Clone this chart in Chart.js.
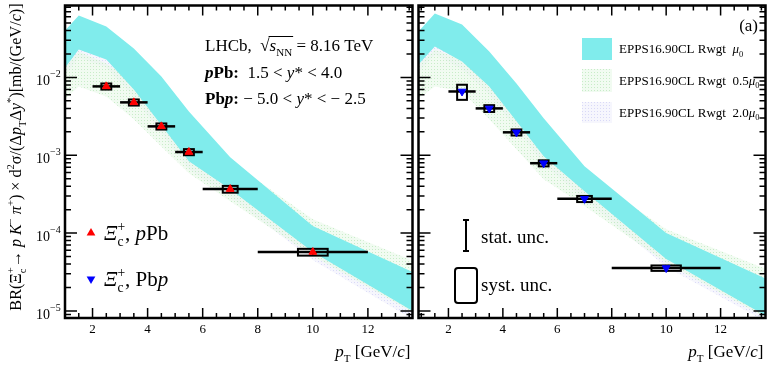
<!DOCTYPE html>
<html>
<head>
<meta charset="utf-8">
<script src="https://cdn.jsdelivr.net/npm/chart.js@4.4.0/dist/chart.umd.min.js"></script>
<style>
  body { margin: 0; background: #fff; }
  #wrap { position: relative; width: 771px; height: 372px; }
  canvas { position: absolute; top: 0; }
</style>
</head>
<body>
<div id="wrap">
  <canvas id="left" width="418" height="372" style="left:0;width:418px;height:372px"></canvas>
  <canvas id="right" width="358" height="372" style="left:413px;width:358px;height:372px"></canvas>
</div>
<script>
// pT bins of the measurement
const ptCenters = [2.5, 3.5, 4.5, 5.5, 7, 10];
const ptLow = [2, 3, 4, 5, 6, 8];
const ptHigh = [3, 4, 5, 6, 8, 12];

// Xi_c+ cross-sections (mb/(GeV/c))
const pPbValues = [7.67e-3, 4.78e-3, 2.35e-3, 1.10e-3, 3.67e-4, 5.7e-5];
const pPbStat = [0.03, 0.03, 0.03, 0.04, 0.05, 0.08];   // relative
const pPbSyst = [0.09, 0.09, 0.09, 0.09, 0.10, 0.10];   // relative
const PbpValues = [6.6e-3, 4.0e-3, 1.97e-3, 7.9e-4, 2.75e-4, 3.55e-5];
const PbpStat = [0.05, 0.04, 0.04, 0.04, 0.05, 0.08];
const PbpSyst = [0.22, 0.10, 0.09, 0.09, 0.09, 0.08];

// EPPS16 reweighted predictions, band edges
const bandX = [0.9, 1.5, 2.5, 3.5, 4.5, 5.5, 7, 10, 14];
const leftMu0Hi = [0.0366, 0.0624, 0.0451, 0.0235, 0.0103, 0.00366, 0.000942, 0.000123, 2.73e-5];
const leftMu0Lo = [0.0119, 0.0229, 0.0170, 0.00702, 0.00243, 0.000838, 0.000366, 5.70e-5, 8.3e-6];
const leftHalfHi = [0.0127, 0.0215, 0.0151, 0.00889, 0.00389, 0.00151, 0.000838, 0.000151, 3.89e-5];
const leftHalfLo = [0.00492, 0.00767, 0.00570, 0.00290, 0.00130, 0.000588, 0.000257, 5.07e-5, 8.1e-6];
const leftTwoHi = [0.030, 0.050, 0.038, 0.019, 0.0080, 0.0028, 0.00075, 0.0001, 2.4e-5];
const leftTwoLo = [0.00942, 0.0180, 0.0134, 0.00555, 0.00191, 0.000662, 0.000290, 4.51e-5, 6.5e-6];

const rightMu0Hi = [0.0389, 0.0662, 0.0478, 0.0215, 0.00838, 0.00298, 0.000723, 1.0e-4, 2.29e-5];
const rightMu0Lo = [0.0147, 0.0249, 0.0160, 0.00767, 0.00273, 0.000970, 0.000345, 4.64e-5, 7.4e-6];
const rightHalfHi = [0.0147, 0.0229, 0.0170, 0.00838, 0.00345, 0.00130, 0.000588, 0.000112, 3.1e-5];
const rightHalfLo = [0.00538, 0.00767, 0.00662, 0.00290, 0.00119, 0.000492, 0.000222, 4.12e-5, 7.0e-6];
const rightTwoHi = [0.032, 0.054, 0.040, 0.018, 0.0072, 0.0025, 0.0006, 8.5e-5, 2.0e-5];
const rightTwoLo = [0.0116, 0.0197, 0.0127, 0.00605, 0.00215, 0.000767, 0.000273, 3.66e-5, 6.3e-6];

const xTickLabels = [2, 4, 6, 8, 10, 12];
const yDecades = [-5, -4, -3, -2];

const FONT = '"Liberation Serif", "DejaVu Serif", serif';
Chart.defaults.font.family = FONT;

// small dotted fill patterns like the ROOT hatch styles
function dotPattern(bg, dot) {
    const c = document.createElement('canvas');
    c.width = 3; c.height = 3;
    const g = c.getContext('2d');
    g.fillStyle = bg; g.fillRect(0, 0, 3, 3);
    g.fillStyle = dot; g.fillRect(0, 0, 1, 1);
    return g.createPattern(c, 'repeat');
}
const cyanFill = 'rgb(128,236,236)';
const greenFill = dotPattern('rgba(232,248,232,0.6)', 'rgba(190,232,190,0.8)');
const purpleFill = dotPattern('rgba(238,238,252,0.5)', 'rgba(205,205,245,0.7)');

// text with italic / bold / sub / superscript pieces
function drawRich(ctx, parts, x, y, size, align) {
    const items = parts.map(([t, s = '']) => {
        const small = s.includes('_') || s.includes('^');
        const fs = small ? size * 0.65 : size;
        const font = (s.includes('i') ? 'italic ' : '') + (s.includes('b') ? 'bold ' : '') + fs + 'px ' + FONT;
        ctx.font = font;
        const dy = s.includes('_') ? size * 0.3 : s.includes('^') ? -size * 0.42 : 0;
        return { t, s, font, dy, w: ctx.measureText(t).width };
    });
    let cx = 0, prevStart = 0;
    const pos = items.map(it => {
        const start = it.s.includes('k') ? prevStart : cx;
        cx = Math.max(cx, start + it.w);
        prevStart = start;
        return start;
    });
    const x0 = align === 'center' ? x - cx / 2 : align === 'right' ? x - cx : x;
    ctx.textAlign = 'left';
    ctx.textBaseline = 'alphabetic';
    items.forEach((it, i) => {
        ctx.font = it.font;
        ctx.fillText(it.t, x0 + pos[i], y + it.dy);
    });
    return { x0, pos, items };
}

function triangle(ctx, x, y, r, down, color) {
    const d = down ? -1 : 1;
    ctx.fillStyle = color;
    ctx.beginPath();
    ctx.moveTo(x, y - d * r);
    ctx.lineTo(x - r * 0.87, y + d * r * 0.5);
    ctx.lineTo(x + r * 0.87, y + d * r * 0.5);
    ctx.closePath();
    ctx.fill();
    ctx.fillStyle = '#000';
}

function band(hi, lo, fill, order) {
    return [
        { type: 'line', data: bandX.map((x, i) => ({ x, y: hi[i] })), fill: '+1', backgroundColor: fill,
          borderColor: 'transparent', borderWidth: 1, pointRadius: 0, tension: 0, order },
        { type: 'line', data: bandX.map((x, i) => ({ x, y: lo[i] })), fill: false,
          borderColor: 'transparent', borderWidth: 1, pointRadius: 0, tension: 0, order }
    ];
}

// horizontal bin bars, stat bars and systematic boxes, drawn just under the markers
function errorBars(values, stat, syst) {
    return {
        id: 'errorBars',
        beforeDatasetDraw(chart, args) {
            if (args.index !== 0) return;
            const ctx = chart.ctx, xs = chart.scales.x, ys = chart.scales.y;
            ctx.save();
            ctx.strokeStyle = '#000';
            values.forEach((v, i) => {
                const py = ys.getPixelForValue(v);
                ctx.lineWidth = 2.5;
                ctx.beginPath();
                ctx.moveTo(xs.getPixelForValue(ptLow[i]), py);
                ctx.lineTo(xs.getPixelForValue(ptHigh[i]), py);
                ctx.stroke();
                ctx.lineWidth = 1.5;
                ctx.beginPath();
                ctx.moveTo(xs.getPixelForValue(ptCenters[i]), ys.getPixelForValue(v * (1 + stat[i])));
                ctx.lineTo(xs.getPixelForValue(ptCenters[i]), ys.getPixelForValue(v * (1 - stat[i])));
                ctx.stroke();
                const hw = Math.max(0.18, 0.27 * (ptHigh[i] - ptLow[i]) / 2);
                const x1 = xs.getPixelForValue(ptCenters[i] - hw), x2 = xs.getPixelForValue(ptCenters[i] + hw);
                const y1 = ys.getPixelForValue(v * (1 + syst[i])), y2 = ys.getPixelForValue(v * (1 - syst[i]));
                ctx.lineWidth = 2;
                ctx.strokeRect(x1, y1, x2 - x1, y2 - y1);
            });
            ctx.restore();
        }
    };
}

// ROOT-like frame with inward ticks on all sides
const frameTicks = {
    id: 'frameTicks',
    afterDatasetsDraw(chart) {
        const ctx = chart.ctx, a = chart.chartArea, xs = chart.scales.x, ys = chart.scales.y;
        ctx.save();
        ctx.strokeStyle = '#000';
        ctx.lineWidth = 1.5;
        ctx.beginPath();
        for (let v = Math.ceil(xs.min * 2) / 2; v <= xs.max; v += 0.5) {
            const px = xs.getPixelForValue(v);
            const len = v % 2 === 0 ? 10 : 5;
            ctx.moveTo(px, a.bottom); ctx.lineTo(px, a.bottom - len);
            ctx.moveTo(px, a.top); ctx.lineTo(px, a.top + len);
        }
        for (let e = -6; e <= -1; e++) {
            for (let k = 1; k <= 9; k++) {
                const v = k * Math.pow(10, e);
                if (v < ys.min || v > ys.max) continue;
                const py = ys.getPixelForValue(v);
                const len = k === 1 ? 12 : 6;
                ctx.moveTo(a.left, py); ctx.lineTo(a.left + len, py);
                ctx.moveTo(a.right, py); ctx.lineTo(a.right - len, py);
            }
        }
        ctx.stroke();
        ctx.lineWidth = 2.5;
        ctx.strokeRect(a.left, a.top, a.right - a.left, a.bottom - a.top);
        // x tick labels and title
        ctx.fillStyle = '#000';
        ctx.font = '13px ' + FONT;
        ctx.textAlign = 'center';
        ctx.textBaseline = 'middle';
        xTickLabels.forEach(v => ctx.fillText(String(v), xs.getPixelForValue(v), 330));
        drawRich(ctx, [['p', 'i'], ['T', '_'], [' [GeV/'], ['c', 'i'], [']']], a.right - 2, 357, 17, 'right');
        ctx.restore();
    }
};

const leftText = {
    id: 'leftText',
    afterDraw(chart) {
        const ctx = chart.ctx, ys = chart.scales.y;
        ctx.save();
        ctx.fillStyle = '#000';
        // y tick labels 10^n
        yDecades.forEach(e => {
            const py = ys.getPixelForValue(Math.pow(10, e));
            ctx.textBaseline = 'alphabetic';
            ctx.textAlign = 'right';
            ctx.font = '14px ' + FONT;
            ctx.fillText('10', 50, py + 8);
            ctx.textAlign = 'left';
            ctx.font = '10px ' + FONT;
            ctx.fillText('\u2212' + Math.abs(e), 50, py);
        });
        // y title
        ctx.save();
        ctx.translate(21, 157);
        ctx.rotate(-Math.PI / 2);
        drawRich(ctx, [['BR(\u039E'], ['c', '_'], ['+', '^k'], ['\u2192 '], ['p', 'i'], [' '], ['K', 'i'], ['\u2212', '^'],
            [' '], ['\u03C0', 'i'], ['+', '^'], [') \u00D7 d'], ['2', '^'], ['\u03C3/(\u0394'], ['p', 'i'], ['T', '_'],
            ['\u0394'], ['y', 'i'], ['*', '^'], [')[mb/(GeV/'], ['c', 'i'], [')]']], 0, 0, 16.2, 'center');
        ctx.restore();
        // experiment labels
        const r = drawRich(ctx, [['LHCb,  '], ['\u221A'], ['s', 'i'], ['NN', '_'], [' = 8.16 TeV']], 205, 51, 17, 'left');
        const ox1 = r.x0 + r.pos[1] + r.items[1].w - 1, ox2 = r.x0 + r.pos[3] + r.items[3].w + 1;
        ctx.lineWidth = 1;
        ctx.beginPath(); ctx.moveTo(ox1, 51 - 14.5); ctx.lineTo(ox2, 51 - 14.5); ctx.stroke();
        drawRich(ctx, [['p', 'bi'], ['Pb:', 'b'], ['  1.5 < '], ['y', 'i'], ['* < 4.0']], 205, 78, 17, 'left');
        drawRich(ctx, [['Pb', 'b'], ['p', 'bi'], [':', 'b'], [' \u2212 5.0 < '], ['y', 'i'], ['* < \u2212 2.5']], 205, 104, 17, 'left');
        // marker legend
        triangle(ctx, 91, 233, 5, false, 'rgb(255,0,0)');
        drawRich(ctx, [['\u039E', 'i'], ['c', '_'], ['+', '^k'], [', '], ['p', 'i'], ['Pb']], 104, 240, 21, 'left');
        triangle(ctx, 91, 279, 5, true, 'rgb(0,0,255)');
        drawRich(ctx, [['\u039E', 'i'], ['c', '_'], ['+', '^k'], [', Pb'], ['p', 'i']], 104, 286, 21, 'left');
        ctx.restore();
    }
};

const rightText = {
    id: 'rightText',
    afterDraw(chart) {
        const ctx = chart.ctx;
        ctx.save();
        ctx.translate(-413, 0);   // page coordinates
        ctx.fillStyle = '#000';
        drawRich(ctx, [['(a)']], 758, 31, 17, 'right');
        const rows = [[cyanFill, 38, 60, ''], [greenFill, 69, 92, '0.5'], [purpleFill, 102, 123, '2.0']];
        rows.forEach(([fill, y1, y2, k]) => {
            ctx.fillStyle = fill;
            ctx.fillRect(582, y1, 30, y2 - y1);
            ctx.fillStyle = '#000';
            drawRich(ctx, [['EPPS16.90CL Rwgt  ' + k], ['\u03BC', 'i'], ['0', '_']], 619, (y1 + y2) / 2 + 4, 13, 'left');
        });
        // uncertainty legend
        ctx.strokeStyle = '#000';
        ctx.lineWidth = 2;
        ctx.beginPath();
        ctx.moveTo(466, 220); ctx.lineTo(466, 251);
        ctx.moveTo(463, 220); ctx.lineTo(469, 220);
        ctx.moveTo(463, 251); ctx.lineTo(469, 251);
        ctx.stroke();
        ctx.beginPath();
        ctx.roundRect(455, 268, 22, 35, 3);
        ctx.stroke();
        drawRich(ctx, [['stat. unc.']], 481, 243, 19, 'left');
        drawRich(ctx, [['syst. unc.']], 481, 291, 19, 'left');
        ctx.restore();
    }
};

function pointsDataset(values, color, rotation) {
    return {
        type: 'scatter', data: ptCenters.map((x, i) => ({ x, y: values[i] })),
        pointStyle: 'triangle', pointRadius: 4.5, rotation,
        backgroundColor: color, borderColor: color, borderWidth: 1, order: 0
    };
}

function makeChart(id, points, bands, xMin, xMax, padding, extra) {
    return new Chart(document.getElementById(id), {
        type: 'scatter',
        data: { datasets: [points, ...bands] },
        options: {
            responsive: false,
            animation: false,
            layout: { padding },
            scales: {
                x: { type: 'linear', min: xMin, max: xMax, display: false },
                y: { type: 'logarithmic', min: 8.1e-6, max: 0.084, display: false }
            },
            plugins: { legend: { display: false }, tooltip: { enabled: false } }
        },
        plugins: extra
    });
}

makeChart('left', pointsDataset(pPbValues, 'rgb(255,0,0)', 0),
    [...band(leftMu0Hi, leftMu0Lo, cyanFill, 1), ...band(leftHalfHi, leftHalfLo, greenFill, 2), ...band(leftTwoHi, leftTwoLo, purpleFill, 3)],
    1, 13.62, { left: 65, right: 3, top: 4, bottom: 54 },
    [errorBars(pPbValues, pPbStat, pPbSyst), frameTicks, leftText]);

makeChart('right', pointsDataset(PbpValues, 'rgb(0,0,255)', 180),
    [...band(rightMu0Hi, rightMu0Lo, cyanFill, 1), ...band(rightHalfHi, rightHalfLo, greenFill, 2), ...band(rightTwoHi, rightTwoLo, purpleFill, 3)],
    0.9, 13.65, { left: 2, right: 1, top: 4, bottom: 54 },
    [errorBars(PbpValues, PbpStat, PbpSyst), frameTicks, rightText]);
</script>
</body>
</html>
